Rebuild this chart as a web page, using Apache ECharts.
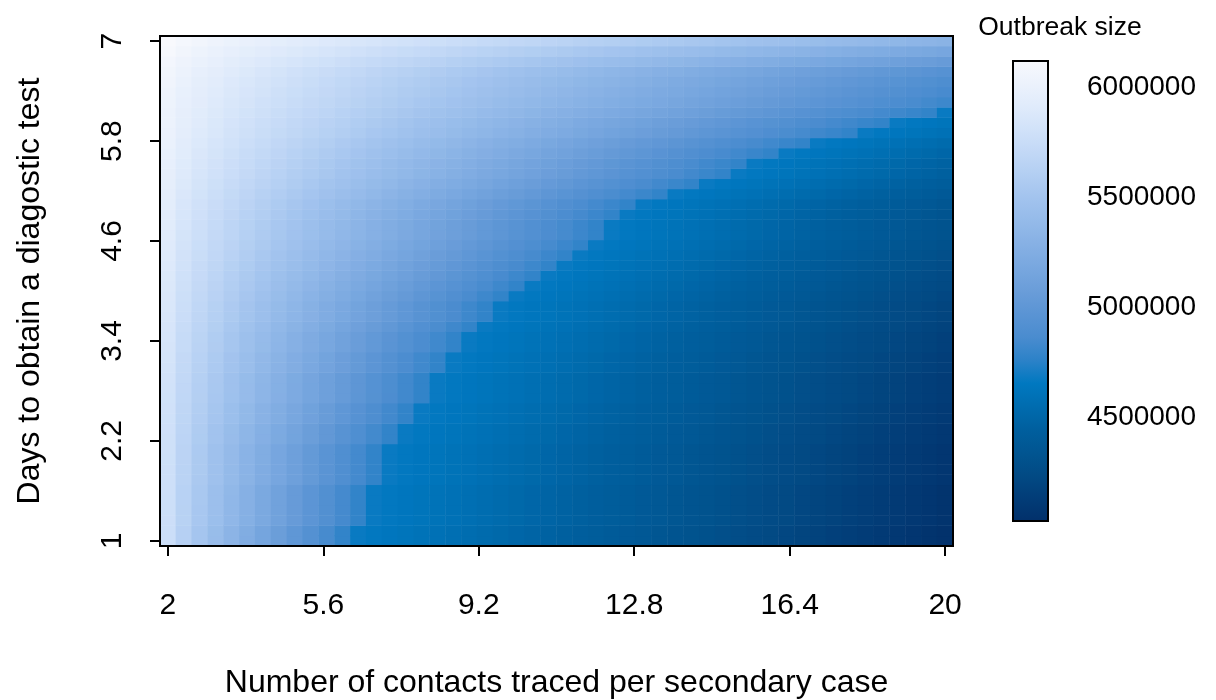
<!DOCTYPE html>
<html>
<head>
<meta charset="utf-8">
<script src="https://cdn.jsdelivr.net/npm/echarts@6/dist/echarts.min.js"></script>
<style>
  html, body { margin: 0; background: #fff; }
  #chart { width: 1216px; height: 700px; }
</style>
</head>
<body>
<div id="chart"></div>
<script>
// number of contacts traced per secondary case (50 columns)
const xValues = [2.000, 2.367, 2.735, 3.102, 3.469, 3.837, 4.204, 4.571, 4.939, 5.306,
  5.673, 6.041, 6.408, 6.776, 7.143, 7.510, 7.878, 8.245, 8.612, 8.980,
  9.347, 9.714, 10.082, 10.449, 10.816, 11.184, 11.551, 11.918, 12.286, 12.653,
  13.020, 13.388, 13.755, 14.122, 14.490, 14.857, 15.224, 15.592, 15.959, 16.327,
  16.694, 17.061, 17.429, 17.796, 18.163, 18.531, 18.898, 19.265, 19.633, 20.000]
// days to obtain a diagnostic test (50 rows)
const yValues = [1.000, 1.122, 1.245, 1.367, 1.490, 1.612, 1.735, 1.857, 1.980, 2.102,
  2.224, 2.347, 2.469, 2.592, 2.714, 2.837, 2.959, 3.082, 3.204, 3.327,
  3.449, 3.571, 3.694, 3.816, 3.939, 4.061, 4.184, 4.306, 4.429, 4.551,
  4.673, 4.796, 4.918, 5.041, 5.163, 5.286, 5.408, 5.531, 5.653, 5.776,
  5.898, 6.020, 6.143, 6.265, 6.388, 6.510, 6.633, 6.755, 6.878, 7.000]

// outbreak size in thousands, one row per y value (bottom row first)
const sizeK = [
  [5763,5619,5512,5415,5325,5240,5158,5078,5001,4926,4852,4780,4675,4658,4641,4624,4607,4590,4573,4556,4539,4522,4505,4488,4471,4454,4437,4420,4403,4386,4369,4352,4335,4318,4301,4284,4267,4250,4233,4216,4199,4182,4165,4148,4131,4114,4097,4080,4063,4046],
  [5765,5620,5513,5417,5327,5241,5158,5079,5002,4926,4852,4780,4675,4658,4641,4624,4607,4590,4573,4556,4539,4522,4505,4488,4471,4454,4437,4420,4403,4386,4369,4352,4335,4318,4301,4284,4267,4250,4233,4216,4199,4182,4165,4148,4131,4114,4097,4080,4063,4046],
  [5767,5632,5532,5441,5357,5277,5200,5126,5053,4983,4914,4846,4780,4675,4658,4641,4624,4607,4590,4573,4556,4539,4522,4505,4488,4471,4454,4437,4420,4403,4386,4369,4352,4335,4318,4301,4284,4267,4250,4233,4216,4199,4182,4165,4148,4131,4114,4097,4080,4063],
  [5769,5634,5533,5443,5358,5278,5201,5126,5054,4983,4914,4846,4780,4675,4658,4641,4624,4607,4590,4573,4556,4539,4522,4505,4488,4471,4454,4437,4420,4403,4386,4369,4352,4335,4318,4301,4284,4267,4250,4233,4216,4199,4182,4165,4148,4131,4114,4097,4080,4063],
  [5771,5635,5535,5444,5360,5279,5202,5127,5055,4984,4914,4847,4780,4675,4658,4641,4624,4607,4590,4573,4556,4539,4522,4505,4488,4471,4454,4437,4420,4403,4386,4369,4352,4335,4318,4301,4284,4267,4250,4233,4216,4199,4182,4165,4148,4131,4114,4097,4080,4063],
  [5773,5637,5536,5445,5361,5280,5203,5128,5055,4984,4915,4847,4780,4675,4658,4641,4624,4607,4590,4573,4556,4539,4522,4505,4488,4471,4454,4437,4420,4403,4386,4369,4352,4335,4318,4301,4284,4267,4250,4233,4216,4199,4182,4165,4148,4131,4114,4097,4080,4063],
  [5775,5647,5552,5467,5388,5312,5239,5169,5100,5034,4968,4904,4842,4780,4675,4658,4641,4624,4607,4590,4573,4556,4539,4522,4505,4488,4471,4454,4437,4420,4403,4386,4369,4352,4335,4318,4301,4284,4267,4250,4233,4216,4199,4182,4165,4148,4131,4114,4097,4080],
  [5777,5649,5554,5469,5389,5313,5240,5169,5101,5034,4969,4905,4842,4780,4675,4658,4641,4624,4607,4590,4573,4556,4539,4522,4505,4488,4471,4454,4437,4420,4403,4386,4369,4352,4335,4318,4301,4284,4267,4250,4233,4216,4199,4182,4165,4148,4131,4114,4097,4080],
  [5779,5651,5556,5470,5390,5314,5241,5170,5102,5035,4969,4905,4842,4780,4675,4658,4641,4624,4607,4590,4573,4556,4539,4522,4505,4488,4471,4454,4437,4420,4403,4386,4369,4352,4335,4318,4301,4284,4267,4250,4233,4216,4199,4182,4165,4148,4131,4114,4097,4080],
  [5781,5652,5557,5471,5391,5315,5242,5171,5102,5035,4970,4905,4842,4780,4675,4658,4641,4624,4607,4590,4573,4556,4539,4522,4505,4488,4471,4454,4437,4420,4403,4386,4369,4352,4335,4318,4301,4284,4267,4250,4233,4216,4199,4182,4165,4148,4131,4114,4097,4080],
  [5783,5662,5572,5491,5415,5343,5274,5207,5142,5079,5017,4956,4897,4838,4780,4675,4658,4641,4624,4607,4590,4573,4556,4539,4522,4505,4488,4471,4454,4437,4420,4403,4386,4369,4352,4335,4318,4301,4284,4267,4250,4233,4216,4199,4182,4165,4148,4131,4114,4097],
  [5787,5665,5575,5493,5417,5345,5276,5209,5144,5080,5018,4957,4897,4838,4780,4675,4658,4641,4624,4607,4590,4573,4556,4539,4522,4505,4488,4471,4454,4437,4420,4403,4386,4369,4352,4335,4318,4301,4284,4267,4250,4233,4216,4199,4182,4165,4148,4131,4114,4097],
  [5791,5675,5589,5512,5440,5371,5305,5242,5180,5119,5060,5002,4945,4889,4834,4780,4675,4658,4641,4624,4607,4590,4573,4556,4539,4522,4505,4488,4471,4454,4437,4420,4403,4386,4369,4352,4335,4318,4301,4284,4267,4250,4233,4216,4199,4182,4165,4148,4131,4114],
  [5795,5679,5593,5515,5442,5374,5307,5243,5181,5120,5061,5003,4946,4890,4834,4780,4675,4658,4641,4624,4607,4590,4573,4556,4539,4522,4505,4488,4471,4454,4437,4420,4403,4386,4369,4352,4335,4318,4301,4284,4267,4250,4233,4216,4199,4182,4165,4148,4131,4114],
  [5800,5689,5607,5533,5464,5398,5335,5274,5214,5156,5100,5044,4990,4936,4883,4831,4780,4675,4658,4641,4624,4607,4590,4573,4556,4539,4522,4505,4488,4471,4454,4437,4420,4403,4386,4369,4352,4335,4318,4301,4284,4267,4250,4233,4216,4199,4182,4165,4148,4131],
  [5804,5693,5610,5536,5466,5400,5337,5276,5216,5158,5101,5045,4991,4937,4884,4832,4780,4675,4658,4641,4624,4607,4590,4573,4556,4539,4522,4505,4488,4471,4454,4437,4420,4403,4386,4369,4352,4335,4318,4301,4284,4267,4250,4233,4216,4199,4182,4165,4148,4131],
  [5810,5698,5615,5540,5470,5404,5340,5278,5218,5160,5103,5047,4992,4938,4884,4832,4780,4675,4658,4641,4624,4607,4590,4573,4556,4539,4522,4505,4488,4471,4454,4437,4420,4403,4386,4369,4352,4335,4318,4301,4284,4267,4250,4233,4216,4199,4182,4165,4148,4131],
  [5817,5710,5630,5558,5491,5428,5366,5307,5250,5194,5139,5085,5032,4980,4929,4879,4829,4780,4675,4658,4641,4624,4607,4590,4573,4556,4539,4522,4505,4488,4471,4454,4437,4420,4403,4386,4369,4352,4335,4318,4301,4284,4267,4250,4233,4216,4199,4182,4165,4148],
  [5823,5715,5635,5563,5495,5431,5370,5310,5252,5196,5141,5087,5034,4982,4930,4879,4829,4780,4675,4658,4641,4624,4607,4590,4573,4556,4539,4522,4505,4488,4471,4454,4437,4420,4403,4386,4369,4352,4335,4318,4301,4284,4267,4250,4233,4216,4199,4182,4165,4148],
  [5830,5726,5649,5580,5515,5453,5394,5337,5281,5227,5174,5122,5071,5021,4971,4923,4874,4827,4780,4675,4658,4641,4624,4607,4590,4573,4556,4539,4522,4505,4488,4471,4454,4437,4420,4403,4386,4369,4352,4335,4318,4301,4284,4267,4250,4233,4216,4199,4182,4165],
  [5836,5731,5654,5584,5519,5457,5398,5340,5284,5229,5176,5124,5073,5022,4972,4923,4875,4827,4780,4675,4658,4641,4624,4607,4590,4573,4556,4539,4522,4505,4488,4471,4454,4437,4420,4403,4386,4369,4352,4335,4318,4301,4284,4267,4250,4233,4216,4199,4182,4165],
  [5844,5743,5668,5601,5538,5478,5421,5365,5311,5259,5207,5157,5107,5059,5011,4963,4917,4871,4825,4780,4675,4658,4641,4624,4607,4590,4573,4556,4539,4522,4505,4488,4471,4454,4437,4420,4403,4386,4369,4352,4335,4318,4301,4284,4267,4250,4233,4216,4199,4182],
  [5852,5754,5682,5617,5556,5498,5443,5389,5337,5286,5236,5188,5140,5093,5046,5000,4955,4911,4867,4823,4780,4675,4658,4641,4624,4607,4590,4573,4556,4539,4522,4505,4488,4471,4454,4437,4420,4403,4386,4369,4352,4335,4318,4301,4284,4267,4250,4233,4216,4199],
  [5859,5761,5688,5623,5561,5503,5447,5393,5341,5289,5239,5190,5142,5095,5048,5002,4956,4912,4867,4823,4780,4675,4658,4641,4624,4607,4590,4573,4556,4539,4522,4505,4488,4471,4454,4437,4420,4403,4386,4369,4352,4335,4318,4301,4284,4267,4250,4233,4216,4199],
  [5867,5772,5701,5638,5579,5522,5468,5416,5365,5315,5267,5219,5172,5126,5081,5037,4993,4949,4906,4864,4822,4780,4675,4658,4641,4624,4607,4590,4573,4556,4539,4522,4505,4488,4471,4454,4437,4420,4403,4386,4369,4352,4335,4318,4301,4284,4267,4250,4233,4216],
  [5874,5782,5713,5652,5594,5540,5487,5436,5387,5339,5292,5246,5200,5156,5112,5069,5026,4984,4942,4901,4860,4820,4780,4675,4658,4641,4624,4607,4590,4573,4556,4539,4522,4505,4488,4471,4454,4437,4420,4403,4386,4369,4352,4335,4318,4301,4284,4267,4250,4233],
  [5881,5791,5725,5665,5609,5556,5505,5456,5408,5361,5316,5271,5227,5184,5141,5099,5058,5017,4976,4936,4897,4857,4819,4780,4675,4658,4641,4624,4607,4590,4573,4556,4539,4522,4505,4488,4471,4454,4437,4420,4403,4386,4369,4352,4335,4318,4301,4284,4267,4250],
  [5888,5801,5736,5678,5624,5572,5523,5475,5428,5383,5338,5294,5252,5210,5168,5127,5087,5047,5008,4969,4931,4892,4855,4817,4780,4675,4658,4641,4624,4607,4590,4573,4556,4539,4522,4505,4488,4471,4454,4437,4420,4403,4386,4369,4352,4335,4318,4301,4284,4267],
  [5895,5810,5747,5691,5638,5587,5539,5492,5447,5403,5359,5317,5275,5234,5194,5154,5115,5076,5038,5000,4962,4925,4888,4852,4816,4780,4675,4658,4641,4624,4607,4590,4573,4556,4539,4522,4505,4488,4471,4454,4437,4420,4403,4386,4369,4352,4335,4318,4301,4284],
  [5902,5819,5758,5703,5651,5602,5555,5509,5465,5422,5380,5338,5298,5258,5218,5180,5141,5103,5066,5029,4993,4956,4920,4885,4850,4815,4780,4675,4658,4641,4624,4607,4590,4573,4556,4539,4522,4505,4488,4471,4454,4437,4420,4403,4386,4369,4352,4335,4318,4301],
  [5909,5828,5768,5714,5664,5616,5570,5526,5482,5440,5399,5359,5319,5280,5241,5204,5166,5129,5093,5057,5021,4986,4951,4916,4882,4848,4814,4780,4675,4658,4641,4624,4607,4590,4573,4556,4539,4522,4505,4488,4471,4454,4437,4420,4403,4386,4369,4352,4335,4318],
  [5917,5836,5775,5721,5670,5622,5576,5531,5487,5445,5403,5363,5323,5283,5245,5207,5169,5132,5095,5059,5023,4987,4952,4917,4882,4848,4814,4780,4675,4658,4641,4624,4607,4590,4573,4556,4539,4522,4505,4488,4471,4454,4437,4420,4403,4386,4369,4352,4335,4318],
  [5926,5846,5787,5734,5684,5637,5592,5548,5505,5464,5423,5383,5344,5306,5268,5230,5194,5157,5121,5086,5050,5016,4981,4947,4913,4879,4846,4813,4780,4675,4658,4641,4624,4607,4590,4573,4556,4539,4522,4505,4488,4471,4454,4437,4420,4403,4386,4369,4352,4335],
  [5934,5856,5798,5746,5697,5651,5607,5564,5522,5481,5442,5403,5364,5327,5289,5253,5217,5181,5146,5111,5077,5043,5009,4975,4942,4909,4876,4844,4812,4780,4675,4658,4641,4624,4607,4590,4573,4556,4539,4522,4505,4488,4471,4454,4437,4420,4403,4386,4369,4352],
  [5943,5868,5813,5763,5717,5673,5630,5589,5549,5511,5473,5435,5399,5363,5327,5292,5258,5224,5190,5157,5124,5091,5059,5027,4995,4964,4933,4902,4871,4841,4810,4780,4675,4658,4641,4624,4607,4590,4573,4556,4539,4522,4505,4488,4471,4454,4437,4420,4403,4386],
  [5951,5880,5827,5779,5735,5692,5652,5612,5574,5537,5500,5465,5430,5395,5361,5328,5295,5262,5230,5198,5167,5135,5104,5074,5043,5013,4983,4954,4924,4895,4866,4837,4809,4780,4675,4658,4641,4624,4607,4590,4573,4556,4539,4522,4505,4488,4471,4454,4437,4420],
  [5961,5892,5841,5796,5753,5712,5673,5635,5598,5562,5528,5493,5460,5426,5394,5361,5330,5298,5267,5237,5206,5176,5146,5117,5088,5059,5030,5001,4973,4945,4917,4889,4862,4834,4807,4780,4675,4658,4641,4624,4607,4590,4573,4556,4539,4522,4505,4488,4471,4454],
  [5972,5904,5854,5809,5767,5726,5688,5651,5614,5579,5544,5510,5477,5444,5412,5380,5349,5318,5288,5257,5227,5198,5168,5139,5110,5082,5053,5025,4997,4970,4942,4915,4887,4860,4833,4807,4780,4675,4658,4641,4624,4607,4590,4573,4556,4539,4522,4505,4488,4471],
  [5982,5917,5868,5824,5784,5745,5708,5672,5637,5602,5569,5536,5504,5472,5441,5411,5380,5350,5321,5292,5263,5234,5206,5178,5150,5122,5095,5068,5041,5014,4987,4961,4935,4908,4882,4857,4831,4805,4780,4675,4658,4641,4624,4607,4590,4573,4556,4539,4522,4505],
  [5993,5930,5883,5840,5801,5763,5727,5692,5658,5625,5593,5561,5530,5500,5469,5440,5410,5381,5353,5324,5296,5269,5241,5214,5187,5160,5134,5107,5081,5055,5029,5004,4978,4953,4928,4903,4878,4853,4829,4804,4780,4675,4658,4641,4624,4607,4590,4573,4556,4539],
  [6003,5943,5898,5858,5820,5784,5750,5717,5685,5653,5622,5592,5562,5533,5505,5476,5448,5421,5394,5367,5340,5314,5288,5262,5236,5211,5185,5160,5135,5111,5086,5062,5038,5013,4990,4966,4942,4919,4895,4872,4849,4826,4803,4780,4675,4658,4641,4624,4607,4590],
  [6010,5951,5908,5869,5833,5798,5765,5732,5701,5671,5641,5612,5583,5555,5527,5499,5472,5446,5419,5393,5367,5342,5316,5291,5266,5242,5217,5193,5168,5145,5121,5097,5074,5050,5027,5004,4981,4958,4936,4913,4891,4868,4846,4824,4802,4780,4675,4658,4641,4624],
  [6017,5961,5920,5882,5848,5814,5783,5752,5722,5693,5664,5636,5609,5582,5555,5529,5503,5478,5453,5428,5403,5379,5354,5330,5307,5283,5260,5236,5213,5190,5168,5145,5123,5100,5078,5056,5034,5012,4991,4969,4948,4927,4905,4884,4863,4842,4822,4801,4780,4675],
  [6024,5970,5931,5895,5862,5830,5799,5770,5741,5713,5686,5659,5633,5607,5582,5557,5532,5507,5483,5459,5436,5412,5389,5366,5343,5321,5298,5276,5254,5232,5210,5189,5167,5146,5125,5103,5082,5062,5041,5020,5000,4979,4959,4939,4919,4899,4879,4859,4839,4819],
  [6034,5982,5943,5908,5875,5844,5815,5786,5758,5730,5704,5678,5652,5627,5602,5577,5553,5529,5505,5482,5459,5436,5413,5391,5369,5347,5325,5303,5281,5260,5239,5217,5196,5176,5155,5134,5114,5093,5073,5053,5033,5013,4993,4973,4953,4934,4914,4895,4875,4856],
  [6045,5994,5956,5922,5890,5859,5830,5802,5774,5748,5722,5696,5671,5646,5622,5598,5574,5550,5527,5504,5482,5459,5437,5415,5393,5372,5350,5329,5308,5287,5266,5245,5225,5204,5184,5164,5144,5124,5104,5084,5065,5045,5025,5006,4987,4968,4949,4930,4911,4892],
  [6060,6010,5974,5940,5909,5880,5852,5824,5798,5772,5746,5722,5697,5673,5649,5626,5603,5580,5558,5536,5514,5492,5471,5449,5428,5407,5386,5366,5345,5325,5305,5285,5265,5245,5225,5206,5186,5167,5147,5128,5109,5090,5071,5053,5034,5015,4997,4978,4960,4942],
  [6076,6031,5997,5967,5938,5912,5886,5861,5836,5813,5790,5767,5745,5723,5701,5680,5659,5638,5618,5597,5577,5558,5538,5518,5499,5480,5461,5442,5423,5405,5386,5368,5350,5332,5314,5296,5278,5260,5243,5225,5208,5190,5173,5156,5139,5122,5105,5088,5072,5055],
  [6097,6056,6025,5998,5972,5948,5924,5902,5880,5858,5837,5816,5796,5776,5757,5737,5718,5699,5681,5663,5644,5626,5608,5591,5573,5556,5539,5521,5504,5488,5471,5454,5438,5421,5405,5389,5372,5356,5340,5325,5309,5293,5277,5262,5246,5231,5216,5200,5185,5170],
  [6118,6082,6055,6032,6009,5988,5967,5948,5928,5910,5891,5873,5856,5838,5821,5804,5788,5771,5755,5739,5723,5708,5692,5677,5661,5646,5631,5616,5601,5587,5572,5557,5543,5529,5515,5500,5486,5472,5458,5444,5431,5417,5403,5390,5376,5363,5350,5336,5323,5310]
]

const xTicks = [2, 5.6, 9.2, 12.8, 16.4, 20]
const yTicks = [1, 2.2, 3.4, 4.6, 5.8, 7]
const legendTicks = [4500, 5000, 5500, 6000]
const sizeMin = 4027
const sizeMax = 6118

// low -> high
const palette = ['#02306A', '#023C77', '#024A84', '#015591', '#005F9E', '#006CAF', '#0078C0',
  '#2C82C8', '#4A8CCF', '#5A94D4', '#6A9DD9', '#78A7DF', '#86B0E4', '#94BAE9', '#A2C3EE',
  '#B2CEF2', '#C2D8F6', '#D1E2F9', '#E0EBFB', '#ECF2FC', '#F8F9FD']

const cells = []
sizeK.forEach((row, yi) => {
  row.forEach((v, xi) => { cells.push([xi, yi, v]) })
})

const halfX = (xValues[xValues.length - 1] - xValues[0]) / (xValues.length - 1) / 2
const halfY = (yValues[yValues.length - 1] - yValues[0]) / (yValues.length - 1) / 2

const font = 'Liberation Sans'
const plot = { left: 160, top: 36, width: 793, height: 510 }
const bar = { left: 1013, top: 61, width: 35, height: 460 }

const chart = echarts.init(document.getElementById('chart'))
chart.setOption({
  animation: false,
  backgroundColor: '#fff',
  grid: [
    { left: plot.left, top: plot.top, width: plot.width, height: plot.height, containLabel: false, outerBoundsMode: 'none' },
    { left: bar.left, top: bar.top, width: bar.width, height: bar.height, containLabel: false, outerBoundsMode: 'none' }
  ],
  xAxis: [
    { type: 'category', gridIndex: 0, data: xValues, show: false },
    {
      type: 'value', gridIndex: 0, position: 'bottom',
      min: xValues[0] - halfX, max: xValues[xValues.length - 1] + halfX,
      axisLine: { show: false }, splitLine: { show: false },
      axisTick: { show: true, length: 10, customValues: xTicks, lineStyle: { color: '#000', width: 2 } },
      axisLabel: { customValues: xTicks, color: '#000', fontFamily: font, fontSize: 30, margin: 45 },
      name: 'Number of contacts traced per secondary case',
      nameLocation: 'middle', nameGap: 121,
      nameTextStyle: { color: '#000', fontFamily: font, fontSize: 32 }
    },
    { type: 'value', gridIndex: 1, show: false }
  ],
  yAxis: [
    { type: 'category', gridIndex: 0, data: yValues, show: false },
    {
      type: 'value', gridIndex: 0, position: 'left',
      min: yValues[0] - halfY, max: yValues[yValues.length - 1] + halfY,
      axisLine: { show: false }, splitLine: { show: false },
      axisTick: { show: true, length: 10, customValues: yTicks, lineStyle: { color: '#000', width: 2 } },
      axisLabel: { customValues: yTicks, color: '#000', fontFamily: font, fontSize: 30, margin: 32, rotate: 90 },
      name: 'Days to obtain a diagostic test',
      nameLocation: 'middle', nameGap: 114, nameRotate: 90,
      nameTextStyle: { color: '#000', fontFamily: font, fontSize: 32 }
    },
    {
      type: 'value', gridIndex: 1, position: 'right',
      min: sizeMin, max: sizeMax,
      axisLine: { show: false }, splitLine: { show: false },
      axisTick: { show: true, length: 20, customValues: legendTicks, lineStyle: { color: '#000', width: 2 } },
      axisLabel: {
        customValues: legendTicks, color: '#000', fontFamily: font, fontSize: 28, margin: 39,
        formatter: v => String(v * 1000)
      }
    }
  ],
  visualMap: {
    type: 'continuous', show: false, seriesIndex: 0, dimension: 2,
    min: sizeMin, max: sizeMax,
    inRange: { color: palette }
  },
  series: [{
    type: 'heatmap',
    xAxisIndex: 0,
    yAxisIndex: 0,
    data: cells,
    progressive: 0,
    itemStyle: { borderWidth: 0 },
    emphasis: { disabled: true }
  }],
  graphic: [
    {
      type: 'rect', z: 100, silent: true,
      shape: { x: plot.left, y: plot.top, width: plot.width, height: plot.height },
      style: { fill: null, stroke: '#000', lineWidth: 2 }
    },
    {
      type: 'rect', z: 100, silent: true,
      shape: { x: bar.left, y: bar.top, width: bar.width, height: bar.height },
      style: {
        fill: new echarts.graphic.LinearGradient(0, 0, 0, 1,
          palette.slice().reverse().map((c, i) => ({ offset: i / (palette.length - 1), color: c }))),
        stroke: '#000', lineWidth: 2
      }
    },
    {
      type: 'text', z: 100, silent: true, x: 1060, y: 28,
      style: { text: 'Outbreak size', fill: '#000', font: '26.5px "Liberation Sans"', align: 'center', verticalAlign: 'middle' }
    }
  ]
})
</script>
</body>
</html>
